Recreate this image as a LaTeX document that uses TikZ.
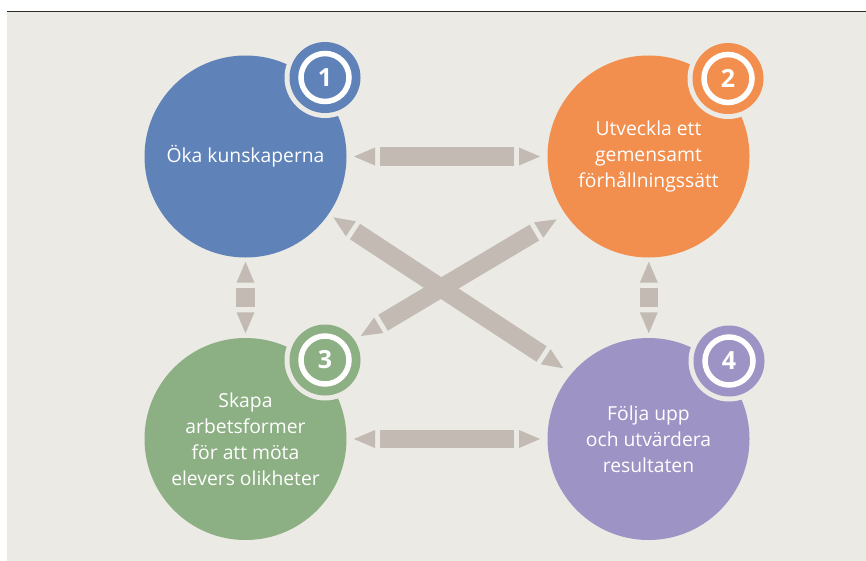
\documentclass[tikz,border=0pt]{standalone}
\usepackage{fontspec}
\setmainfont{Open Sans}
\usetikzlibrary{calc}
\definecolor{bg}{HTML}{EBEAE5}
\definecolor{arrowgray}{HTML}{C3BAB3}
\definecolor{cblue}{HTML}{5F83B9}
\definecolor{corange}{HTML}{F28E4E}
\definecolor{cgreen}{HTML}{8DAF84}
\definecolor{cpurple}{HTML}{9D93C4}
\definecolor{rule}{HTML}{2A2A2A}
\newcommand\segarrow[2]{%
  \fill[arrowgray] (#1) -- ($(#1)!21pt!(#2)!9pt!90:(#2)$) -- ($(#1)!21pt!(#2)!9pt!-90:(#2)$) -- cycle;
  \fill[arrowgray] (#2) -- ($(#2)!21pt!(#1)!9pt!90:(#1)$) -- ($(#2)!21pt!(#1)!9pt!-90:(#1)$) -- cycle;
  \draw[arrowgray, line width=18.5pt] ($(#1)!26pt!(#2)$) -- ($(#2)!26pt!(#1)$);
}
\newcommand\badge[3]{% center, color, number
  \fill[bg] (#1) circle[radius=40.5];
  \fill[#2] (#1) circle[radius=35.5];
  \draw[white, line width=5.5pt] (#1) circle[radius=24];
  \node[badgetext] at (#1) {#3};
}
\tikzset{
  bigcircle/.style={circle, minimum size=202pt, inner sep=0pt, text=white,
    font=\fontsize{19.3}{26}\selectfont, align=center},
  badgetext/.style={text=white, font=\fontsize{25}{25}\selectfont\bfseries, inner sep=0pt}
}
\begin{document}
\begin{tikzpicture}[x=1pt, y=-1pt]
\useasboundingbox (0,0) rectangle (866,561);
\fill[bg] (7,12) rectangle (866,561);
\draw[rule, line width=1.4pt] (7,11.5) -- (866,11.5);

% circles
\node[bigcircle, fill=cblue] (c1) at (245.5,156.5) {Öka kunskaperna};
\node[bigcircle, fill=corange] (c2) at (648.5,156.5) {Utveckla ett\\gemensamt\\förhållningssätt};
\node[bigcircle, fill=cgreen] (c3) at (245.5,439) {Skapa\\arbetsformer\\för att möta\\elevers olikheter};
\node[bigcircle, fill=cpurple] (c4) at (648.5,439) {Följa upp\\och utvärdera\\resultaten};

% badges
\coordinate (b1) at (325,77.5);
\coordinate (b2) at (728,78.5);
\coordinate (b3) at (325,360);
\coordinate (b4) at (729,361);
\badge{b1}{cblue}{1}
\badge{b2}{corange}{2}
\badge{b3}{cgreen}{3}
\badge{b4}{cpurple}{4}

% arrow end points
\coordinate (t12a) at (354,156.5);
\coordinate (t12b) at (540,156.5);
\coordinate (t34a) at (354,439);
\coordinate (t34b) at (540,439);
\coordinate (t13a) at (245.5,261.7);
\coordinate (t13b) at (245.5,333.3);
\coordinate (t24a) at (648.8,261.7);
\coordinate (t24b) at (648.8,333.3);
\coordinate (t14a) at (333.3,217.3);
\coordinate (t14b) at (563.3,368.3);
\coordinate (t32a) at (360.7,336);
\coordinate (t32b) at (556.7,219.3);

\segarrow{t12a}{t12b}
\segarrow{t34a}{t34b}
\segarrow{t13a}{t13b}
\segarrow{t24a}{t24b}
\segarrow{t14a}{t14b}
\segarrow{t32a}{t32b}
\end{tikzpicture}
\end{document}
